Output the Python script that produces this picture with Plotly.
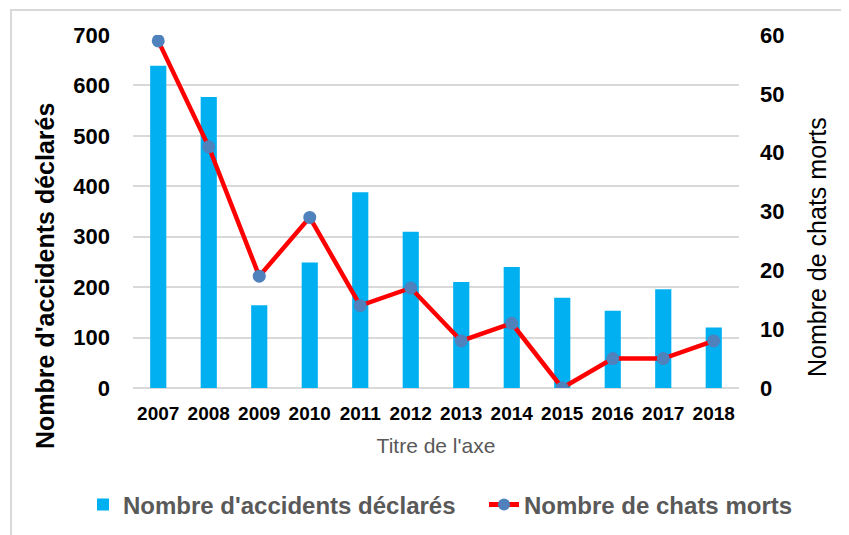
import plotly.graph_objects as go

years = ["2007", "2008", "2009", "2010", "2011", "2012", "2013", "2014", "2015", "2016", "2017", "2018"]
accidents = [639, 577, 164, 249, 388, 310, 210, 240, 179, 153, 196, 120]
chats_morts = [59, 41, 19, 29, 14, 17, 8, 11, 0, 5, 5, 8]

bar_name = "Nombre d'accidents déclarés"
line_name = "Nombre de chats morts"

W, H = 849, 535
OFF = 8  # page offset of the figure inside the browser window
PL, PR, PT, PB = 133, 739, 35, 388  # target plot box on screen
L, T = PL - OFF, PT - OFF
pw, ph = PR - PL, PB - PT
R, B = W - L - pw, H - T - ph

def px_x(p):
    return (p - OFF - L) / pw

def px_y(p):
    return (H - B - (p - OFF)) / ph

def cx(p):
    return (p - OFF) / W

def cy(p):
    return 1 - (p - OFF) / H

fig = go.Figure()
fig.add_trace(go.Bar(
    x=years, y=accidents, name=bar_name,
    marker=dict(color="#00B0F0", line=dict(width=0)),
    yaxis="y", legend="legend",
))
fig.add_trace(go.Scatter(
    x=years, y=chats_morts, name=line_name, mode="lines+markers",
    line=dict(color="#FF0000", width=4.5),
    marker=dict(color="#4F81BD", size=13),
    yaxis="y2", legend="legend2",
))

font_family = "Liberation Sans, Arial, sans-serif"
legend_font = dict(size=24, color="#595959", family=font_family, weight="bold")
fig.update_layout(
    width=W, height=H,
    margin=dict(l=L, r=R, t=T, b=B, pad=0, autoexpand=False),
    paper_bgcolor="white", plot_bgcolor="white",
    font=dict(family=font_family, color="#000000"),
    bargap=0.68,
    showlegend=True,
    legend=dict(
        orientation="h", xref="container", yref="container",
        x=cx(123 - 40), xanchor="left", y=cy(505), yanchor="middle",
        font=legend_font, itemsizing="constant", bgcolor="rgba(0,0,0,0)",
    ),
    legend2=dict(
        orientation="h", xref="container", yref="container",
        x=cx(524 - 40), xanchor="left", y=cy(505), yanchor="middle",
        font=legend_font, itemsizing="constant", bgcolor="rgba(0,0,0,0)",
    ),
    xaxis=dict(
        type="category", range=[-0.5, 11.5], autorange=False,
        showgrid=False, showline=False, zeroline=False,
        ticks="", ticklabelstandoff=12, automargin=False,
        tickfont=dict(size=19, weight="bold", color="#000000"),
        title=dict(text="Titre de l'axe", font=dict(size=21, color="#595959"), standoff=15),
    ),
    yaxis=dict(
        range=[0, 700], dtick=100, showgrid=True, gridcolor="#D9D9D9", gridwidth=1.5,
        zeroline=True, zerolinecolor="#D9D9D9", zerolinewidth=1.5,
        showline=False, ticks="", ticklabelstandoff=22, automargin=False,
        tickfont=dict(size=22, weight="bold", color="#000000"),
    ),
    yaxis2=dict(
        range=[0, 60], dtick=10, overlaying="y", side="right", showgrid=False,
        zeroline=False, showline=False, ticks="", ticklabelstandoff=20, automargin=False,
        tickfont=dict(size=22, weight="bold", color="#000000"),
    ),
    annotations=[
        dict(text=bar_name, xref="paper", yref="paper", x=px_x(45), y=px_y(276),
             xanchor="center", yanchor="middle", textangle=-90, showarrow=False,
             font=dict(size=25, weight="bold", color="#000000", family=font_family)),
        dict(text=line_name, xref="paper", yref="paper", x=px_x(817), y=px_y(247),
             xanchor="center", yanchor="middle", textangle=-90, showarrow=False,
             font=dict(size=25, color="#000000", family=font_family)),
    ],
    shapes=[
        dict(type="rect", xref="paper", yref="paper",
             x0=px_x(11), x1=px_x(847.5), y0=px_y(545), y1=px_y(10),
             line=dict(color="#D9D9D9", width=2), fillcolor="rgba(0,0,0,0)", layer="below"),
    ],
)

fig.write_html("out.html")
